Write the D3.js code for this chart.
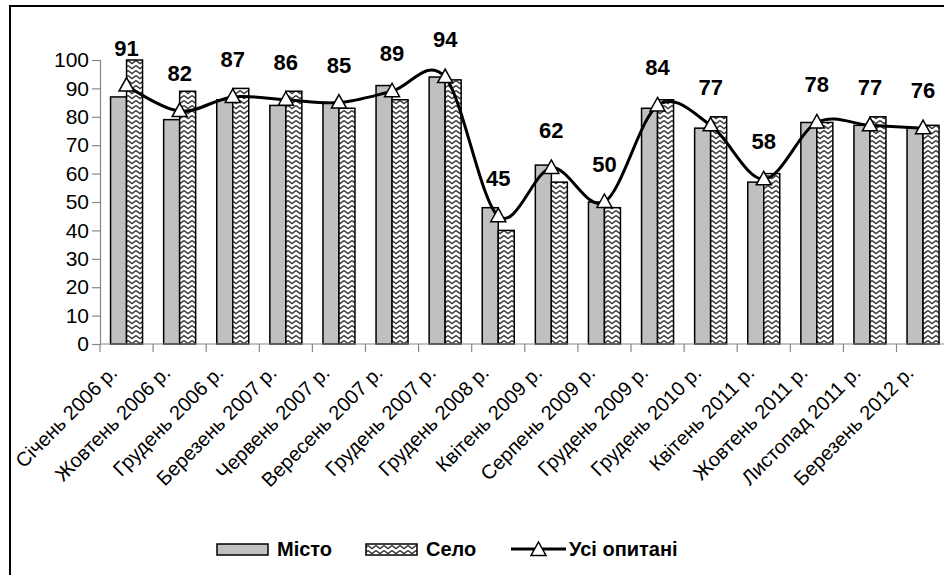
<!DOCTYPE html>
<html>
<head>
<meta charset="utf-8">
<script src="https://cdn.jsdelivr.net/npm/d3@7/dist/d3.min.js"></script>
<style>
  html, body { margin: 0; padding: 0; background: #fff; }
  svg { display: block; }
  text { font-family: "Liberation Sans", Arial, sans-serif; }
</style>
</head>
<body>
<svg id="chart" width="944" height="575"></svg>
<script>
const categories = ["Січень 2006 р.", "Жовтень 2006 р.", "Грудень 2006 р.", "Березень 2007 р.",
  "Червень 2007 р.", "Вересень 2007 р.", "Грудень 2007 р.", "Грудень 2008 р.", "Квітень 2009 р.",
  "Серпень 2009 р.", "Грудень 2009 р.", "Грудень 2010 р.", "Квітень 2011 р.", "Жовтень 2011 р.",
  "Листопад 2011 р.", "Березень 2012 р."];
const misto = [87, 79, 86, 84, 85, 91, 94, 48, 63, 50, 83, 76, 57, 78, 77, 76];
const selo  = [100, 89, 90, 89, 83, 86, 93, 40, 57, 48, 86, 80, 60, 78, 80, 77];
const usi   = [91, 82, 87, 86, 85, 89, 94, 45, 62, 50, 84, 77, 58, 78, 77, 76];
const yTicks = [0, 10, 20, 30, 40, 50, 60, 70, 80, 90, 100];
const seriesNames = ["Місто", "Село", "Усі опитані"];

const svg = d3.select("#chart");

// frame
svg.append("path").attr("d", "M10,576 V6 H945").attr("fill", "none")
  .attr("stroke", "#000").attr("stroke-width", 2);

// pattern
const defs = svg.append("defs");
const pat = defs.append("pattern").attr("id", "wave").attr("patternUnits", "userSpaceOnUse")
  .attr("width", 8).attr("height", 5);
pat.append("rect").attr("width", 8).attr("height", 5).attr("fill", "#fff");
pat.append("path").attr("d", "M0,0.5 L4,3.5 L8,0.5").attr("fill", "none")
  .attr("stroke", "#3a3a3a").attr("stroke-width", 1.4);

const x = d3.scaleBand().domain(categories).range([100, 949.6]).paddingInner(0).paddingOuter(0);
const bw = x.bandwidth();
const x1 = d3.scaleBand().domain(["m", "s"]).range([bw / 2 - 16, bw / 2 + 16]);
const y = d3.scaleLinear().domain([0, 100]).range([344, 60]);

// bars
const g = svg.append("g");
g.selectAll(".bm").data(misto).join("rect")
  .attr("x", (d, i) => x(categories[i]) + x1("m"))
  .attr("y", d => y(d)).attr("width", x1.bandwidth()).attr("height", d => y(0) - y(d))
  .attr("fill", "#c0c0c0").attr("stroke", "#000").attr("stroke-width", 1.5);
g.selectAll(".bs").data(selo).join("rect")
  .attr("x", (d, i) => x(categories[i]) + x1("s"))
  .attr("y", d => y(d)).attr("width", x1.bandwidth()).attr("height", d => y(0) - y(d))
  .attr("fill", "url(#wave)").attr("stroke", "#000").attr("stroke-width", 1.5);

// y axis
const yAxis = svg.append("g").attr("transform", "translate(100,0)")
  .call(d3.axisLeft(y).tickValues(yTicks).tickSize(8).tickPadding(3));
yAxis.select(".domain").attr("stroke", "#888").attr("stroke-width", 1.2);
yAxis.selectAll(".tick line").attr("stroke", "#888").attr("stroke-width", 1.2);
yAxis.selectAll("text").attr("font-size", 21).attr("fill", "#000")
  .style("font-family", "'Liberation Sans', Arial, sans-serif");

// x axis
const xg = svg.append("g");
xg.append("line").attr("x1", 100).attr("x2", 944).attr("y1", y(0)).attr("y2", y(0))
  .attr("stroke", "#888").attr("stroke-width", 1.2);
xg.selectAll(".xt").data(categories).join("line")
  .attr("x1", d => x(d)).attr("x2", d => x(d)).attr("y1", y(0)).attr("y2", y(0) + 8)
  .attr("stroke", "#888").attr("stroke-width", 1.2);
xg.selectAll(".xl").data(categories).join("text")
  .attr("transform", d => `translate(${x(d) + bw / 2 - 8},${y(0) + 30}) rotate(-45)`)
  .attr("text-anchor", "end").attr("font-size", 20).attr("fill", "#000").text(d => d);

// line
const pts = usi.map((v, i) => [x(categories[i]) + bw / 2, y(v)]);
svg.append("path").attr("d", d3.line().curve(d3.curveCatmullRom.alpha(0))(pts))
  .attr("fill", "none").attr("stroke", "#000").attr("stroke-width", 3);
const tri = "M0,-8 L7.5,5.5 L-7.5,5.5 Z";
svg.selectAll(".mk").data(pts).join("path")
  .attr("transform", d => `translate(${d[0]},${d[1]})`).attr("d", tri)
  .attr("fill", "#fff").attr("stroke", "#000").attr("stroke-width", 1.5);
svg.selectAll(".vl").data(usi).join("text")
  .attr("x", (d, i) => pts[i][0]).attr("y", (d, i) => pts[i][1] - 30)
  .attr("text-anchor", "middle").attr("font-size", 22).attr("font-weight", "bold")
  .text(d => d);

// legend
const lg = svg.append("g");
lg.append("rect").attr("x", 217).attr("y", 544).attr("width", 51).attr("height", 11)
  .attr("fill", "#c0c0c0").attr("stroke", "#000").attr("stroke-width", 1.5);
lg.append("text").attr("x", 277).attr("y", 556).attr("font-size", 20).attr("font-weight", "bold").text(seriesNames[0]);
lg.append("rect").attr("x", 366).attr("y", 544).attr("width", 51).attr("height", 11)
  .attr("fill", "url(#wave)").attr("stroke", "#000").attr("stroke-width", 1.5);
lg.append("text").attr("x", 426).attr("y", 556).attr("font-size", 20).attr("font-weight", "bold").text(seriesNames[1]);
lg.append("line").attr("x1", 511).attr("x2", 566).attr("y1", 549).attr("y2", 549)
  .attr("stroke", "#000").attr("stroke-width", 3);
lg.append("path").attr("transform", "translate(538.5,550)").attr("d", tri)
  .attr("fill", "#fff").attr("stroke", "#000").attr("stroke-width", 1.5);
lg.append("text").attr("x", 569).attr("y", 556).attr("font-size", 20).attr("font-weight", "bold").text(seriesNames[2]);
</script>
</body>
</html>
